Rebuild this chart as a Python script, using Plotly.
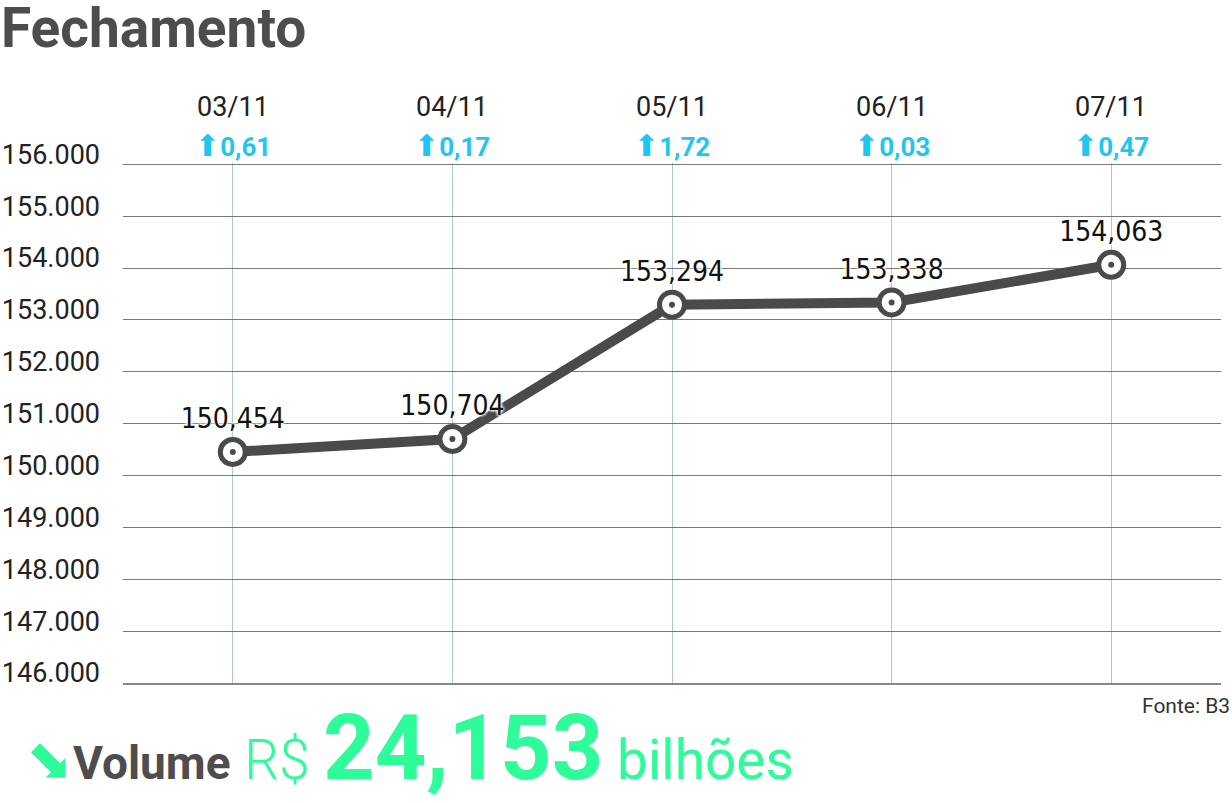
import plotly.graph_objects as go

datas = ["03/11", "04/11", "05/11", "06/11", "07/11"]
fechamento = [150454, 150704, 153294, 153338, 154063]
rotulos = ["150,454", "150,704", "153,294", "153,338", "154,063"]
variacao = [0.61, 0.17, 1.72, 0.03, 0.47]
eixo_y = [146000, 147000, 148000, 149000, 150000, 151000, 152000,
          153000, 154000, 155000, 156000]

CINZA = "#4a4a4a"
CIANO = "#1fc6f2"
VERDE = "#2efc9a"

W, H = 1232, 803
L, R, T, B = 123, 11, 163, 120


def px_x(p):
    return (p - L) / (W - L - R)


def px_y(p):
    return (H - B - p) / (H - T - B)


x = list(range(len(datas)))

fig = go.Figure()

fig.add_trace(go.Scatter(
    x=x, y=fechamento,
    mode="lines+markers+text",
    line=dict(color=CINZA, width=10),
    marker=dict(size=25, color="white", line=dict(color=CINZA, width=5)),
    text=rotulos,
    textposition="top center",
    textfont=dict(family="DejaVu Sans Condensed, Liberation Sans Narrow, sans-serif",
                  size=28, color="#111",
                  shadow="0 0 3px white, 0 0 3px white, 0 0 3px white, 0 0 3px white"),
    hoverinfo="skip",
))

fig.add_trace(go.Scatter(
    x=x, y=fechamento,
    mode="markers",
    marker=dict(size=6, color=CINZA),
    hoverinfo="skip",
))

for i, d in enumerate(datas):
    fig.add_annotation(x=i, y=px_y(107), xref="x", yref="paper", text=d,
                       showarrow=False, yanchor="middle",
                       font=dict(family="Roboto", size=27, color="#222"))
    v = f"{variacao[i]:.2f}".replace(".", ",")
    fig.add_annotation(x=i, y=px_y(146), xref="x", yref="paper",
                       text="<span style='font-family:DejaVu Sans;font-size:30px'>⬆</span><b>" + v + "</b>",
                       showarrow=False, yanchor="middle",
                       font=dict(family="Roboto", size=26, color=CIANO))

fig.add_annotation(x=px_x(0), y=px_y(28), xref="paper", yref="paper",
                   text="<b>Fechamento</b>", showarrow=False,
                   xanchor="left", yanchor="middle", borderpad=0,
                   font=dict(family="Roboto", size=55, color="#4d4d4d"))

fig.add_annotation(x=px_x(1232), y=px_y(706), xref="paper", yref="paper",
                   text="Fonte: B3", showarrow=False,
                   xanchor="right", yanchor="middle",
                   font=dict(family="Roboto", size=21, color="#333"))

volume = ("<span style='font-family:DejaVu Sans;font-size:56px'>⬊</span>"
          "<span style='color:#4d4d4d;font-weight:bold;font-size:46px'>Volume</span> "
          "<span style='font-size:55px;font-weight:300'>R$ </span>"
          "<span style='font-weight:bold;font-size:90px'>24,153</span>"
          "<span style='font-size:55px'> bilhões</span>")
fig.add_annotation(x=px_x(24), y=px_y(748), xref="paper", yref="paper",
                   text=volume, showarrow=False,
                   xanchor="left", yanchor="middle",
                   font=dict(family="Roboto", size=55, color=VERDE))

fig.update_xaxes(
    range=[-0.5, 4.5],
    tickvals=x,
    showticklabels=False,
    showgrid=True, gridcolor="#a9cbc3", gridwidth=1,
    showline=True, linecolor="#888", linewidth=2,
    zeroline=False, ticks="",
    automargin=False,
)
fig.update_yaxes(
    range=[eixo_y[0], eixo_y[-1] + 25],
    tickvals=eixo_y,
    tickformat=",.0f",
    showgrid=True, gridcolor="#777", gridwidth=1,
    zeroline=False, ticks="",
    ticklabelstandoff=22,
    ticklabelshift=-10,
    tickfont=dict(family="Roboto", size=27, color="#222"),
    automargin=False,
)

fig.update_layout(
    width=W, height=H,
    margin=dict(l=L, r=R, t=T, b=B),
    paper_bgcolor="white",
    plot_bgcolor="white",
    separators=",.",
    showlegend=False,
)

fig.write_html("out.html", config={"displayModeBar": False},
               post_script="document.body.style.margin='0';")
